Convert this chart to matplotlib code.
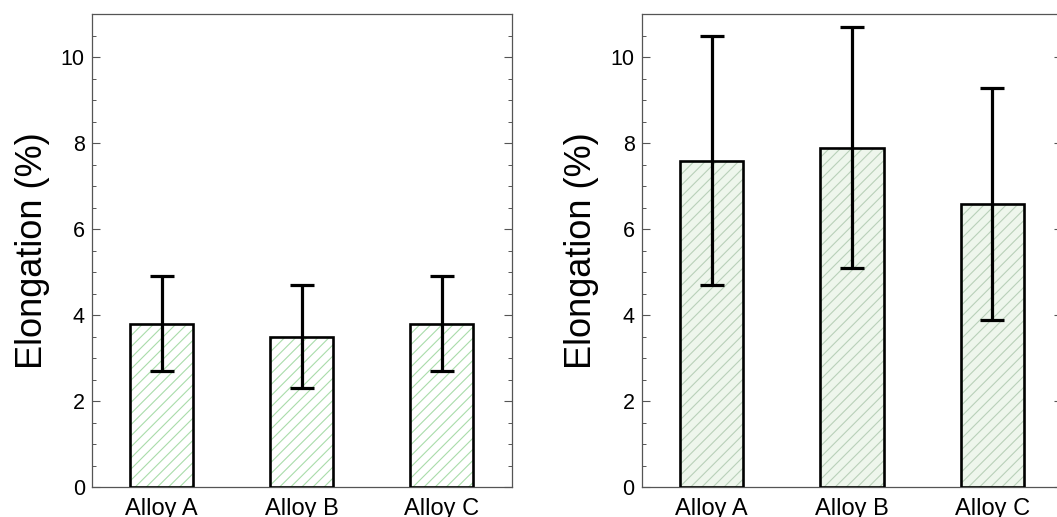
import matplotlib
matplotlib.use("Agg")
import matplotlib.pyplot as plt
from matplotlib.ticker import MultipleLocator

plt.rcParams['font.family'] = ['Liberation Sans', 'DejaVu Sans']

categories = ["Alloy A", "Alloy B", "Alloy C"]
left_values = [3.8, 3.5, 3.8]
left_errors = [1.1, 1.2, 1.1]
right_values = [7.6, 7.9, 6.6]
right_errors = [2.9, 2.8, 2.7]
ylabel_text = "Elongation (%)"

fig = plt.figure(figsize=(10.57, 5.17), dpi=100)
W, H = 1057, 517
ax1 = fig.add_axes([91.7 / W, (H - 487.3) / H, 420 / W, (487.3 - 14) / H])
ax2 = fig.add_axes([641.5 / W, (H - 487.3) / H, 421 / W, (487.3 - 14.5) / H])

def draw(ax, vals, errs, face, hcolor):
    x = list(range(len(categories)))
    plt.rcParams['hatch.color'] = hcolor
    plt.rcParams['hatch.linewidth'] = 0.8
    ax.bar(x, vals, width=0.45, color=face, hatch='///', edgecolor=hcolor,
           linewidth=0, zorder=2)
    ax.bar(x, vals, width=0.45, fill=False, edgecolor='black', linewidth=1.9,
           zorder=3)
    ax.errorbar(x, vals, yerr=errs, fmt='none', ecolor='black',
                elinewidth=2.3, capsize=8.5, capthick=2.3, zorder=4)
    ax.set_xlim(-0.5, 2.5)
    ax.set_ylim(0, 11)
    ax.set_xticks(x)
    ax.set_xticklabels(categories, fontsize=17)
    ax.yaxis.set_major_locator(MultipleLocator(2))
    ax.yaxis.set_minor_locator(MultipleLocator(0.5))
    ax.tick_params(axis='y', which='both', direction='in', left=True, right=True,
                   color='#555555', labelsize=15.5, pad=5)
    ax.tick_params(axis='y', which='major', length=5.5, width=0.8)
    ax.tick_params(axis='y', which='minor', length=3, width=0.7)
    ax.tick_params(axis='x', length=0, pad=8)
    for s in ax.spines.values():
        s.set_color('#555555')
        s.set_linewidth(0.9)
    ax.set_ylabel(ylabel_text, fontsize=26, labelpad=8)

draw(ax1, left_values, left_errors, 'white', '#a9dcaa')
draw(ax2, right_values, right_errors, '#eef6ec', '#b9d0b9')

fig.savefig("out.png", dpi=100)
